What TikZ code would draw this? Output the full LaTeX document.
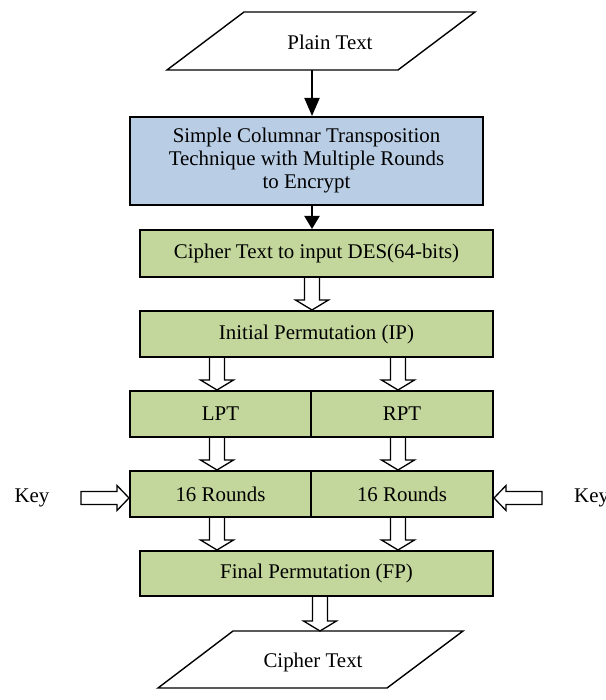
\documentclass[tikz,border=0pt]{standalone}
\usepackage{fontspec}
\setmainfont{Liberation Serif}
\usetikzlibrary{calc,arrows.meta}
\definecolor{boxgreen}{RGB}{195,214,155}
\definecolor{boxblue}{RGB}{185,205,229}
\tikzset{
  box/.style={draw=black, line width=2pt, fill=boxgreen, inner sep=0pt, align=center},
  bluebox/.style={box, fill=boxblue},
  para/.style={draw=black, line width=1.4pt, fill=white},
  lbl/.style={inner sep=0pt},
  blk/.style={line width=2pt},
  hollow/.style={draw=black, line width=1.3pt, fill=white, line join=miter},
}
\newcommand\hdown[2]{\draw[hollow] let \p1=#1, \p2=#2 in
  (\x1-7.5pt,\y1) -- (\x1-7.5pt,\y2+10pt) -- (\x1-16.5pt,\y2+10pt) -- (\x1,\y2)
  -- (\x1+16.5pt,\y2+10pt) -- (\x1+7.5pt,\y2+10pt) -- (\x1+7.5pt,\y1);}
\newcommand\hright[2]{\draw[hollow] let \p1=#1, \p2=#2 in
  (\x1,\y1-6.5pt) -- (\x2-12pt,\y1-6.5pt) -- (\x2-12pt,\y1-12.5pt) -- (\x2,\y1)
  -- (\x2-12pt,\y1+12.5pt) -- (\x2-12pt,\y1+6.5pt) -- (\x1,\y1+6.5pt) -- cycle;}
\newcommand\hleft[2]{\draw[hollow] let \p1=#1, \p2=#2 in
  (\x1,\y1-6.5pt) -- (\x2+12pt,\y1-6.5pt) -- (\x2+12pt,\y1-12.5pt) -- (\x2,\y1)
  -- (\x2+12pt,\y1+12.5pt) -- (\x2+12pt,\y1+6.5pt) -- (\x1,\y1+6.5pt) -- cycle;}
\begin{document}
\begin{tikzpicture}[x=1pt,y=-1pt,font=\fontsize{20.9}{23}\selectfont]
\useasboundingbox (0,0) rectangle (605,700);
\fill[white] (0,0) rectangle (605,700);

% top parallelogram
\draw[para] (244,12) -- (475,12) -- (398,70) -- (167,70) -- cycle;
\node[lbl] (plain) at (330,42) {Plain Text};
\coordinate (plainbot) at (312,70);

% boxes
\node[bluebox, minimum width=353pt, minimum height=88pt] (blue) at (306.5,161)
  {Simple Columnar Transposition\\Technique with Multiple Rounds\\to Encrypt};
\node[box, minimum width=353pt, minimum height=47pt] (c1) at (316.5,253.5) {Cipher Text to input DES(64-bits)};
\node[box, minimum width=353pt, minimum height=46pt] (ip) at (316.5,334) {Initial Permutation (IP)};
\node[box, minimum width=181pt, minimum height=46pt] (lpt) at (220.5,414) {LPT};
\node[box, minimum width=182pt, minimum height=46pt] (rpt) at (402,414) {RPT};
\node[box, minimum width=181pt, minimum height=46pt] (r1) at (220.5,494) {16 Rounds};
\node[box, minimum width=182pt, minimum height=46pt] (r2) at (402,494) {16 Rounds};
\node[box, minimum width=353pt, minimum height=45pt] (fp) at (316.5,573.5) {Final Permutation (FP)};

% bottom parallelogram
\draw[para] (233,631) -- (463,631) -- (387,688) -- (158,688) -- cycle;
\node[lbl] (ct) at (313,662) {Cipher Text};
\coordinate (cttop) at (320,631);

% key labels
\node[lbl] (keyL) at (32,498) {Key};
\node[lbl, anchor=west] (keyR) at (574,498) {Key};
\coordinate (keyLs) at (81,498);
\coordinate (keyRs) at (542,498);

% x positions of connectors
\coordinate (xa) at (312,0);
\coordinate (xl) at (217,0);
\coordinate (xr) at (398,0);
\coordinate (xf) at (320,0);

% solid arrows
\draw[blk, -{Triangle[length=18pt,width=15pt]}] (plainbot) -- (blue.north -| plainbot);
\draw[blk, -{Triangle[length=13pt,width=15pt]}] (blue.south -| xa) -- (c1.north -| xa);

% hollow arrows
\hdown{(c1.south -| xa)}{(ip.north -| xa)}
\hdown{(ip.south -| xl)}{(lpt.north -| xl)}
\hdown{(ip.south -| xr)}{(rpt.north -| xr)}
\hdown{(lpt.south -| xl)}{(r1.north -| xl)}
\hdown{(rpt.south -| xr)}{(r2.north -| xr)}
\hdown{(r1.south -| xl)}{(fp.north -| xl)}
\hdown{(r2.south -| xr)}{(fp.north -| xr)}
\hdown{(fp.south -| xf)}{(cttop)}
\hright{(keyLs)}{(r1.west)}
\hleft{(keyRs)}{(r2.east)}
\end{tikzpicture}
\end{document}
